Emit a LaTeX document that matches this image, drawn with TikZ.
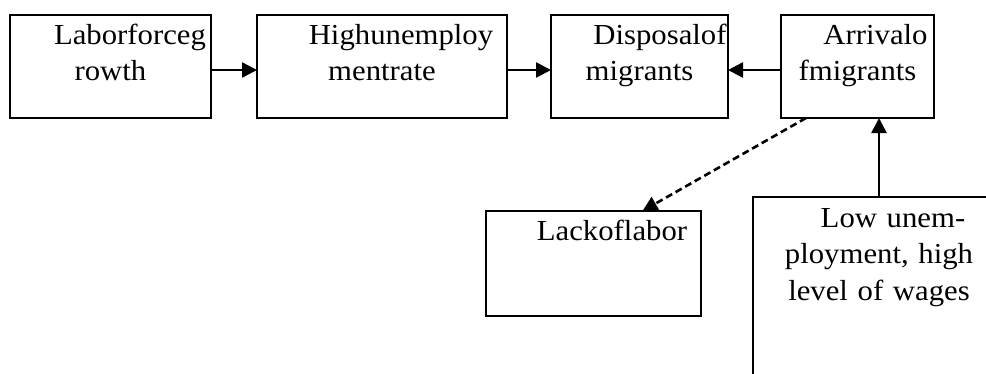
\documentclass[tikz,border=0pt]{standalone}
\usepackage{fontspec}
\setmainfont[FakeStretch=1.06]{Liberation Serif}
\usetikzlibrary{arrows.meta,positioning}

\begin{document}
\begin{tikzpicture}[x=1pt,y=-1pt,->,>={Triangle[length=15pt,width=15pt]},
  line width=2.6pt,node distance=46pt,
  main box/.style={draw,line width=2.2pt,anchor=north west,outer sep=0pt,
    inner sep=0pt,align=center,font=\fontsize{29}{36.5}\selectfont},
  top box/.style={main box,text height=29pt,text depth=74pt}]

    \clip (0,0) rectangle (986,373);

    \node[top box,text width=201pt] (lab) at (10,15) {\hspace*{39pt}Laborforceg\\rowth};
    \node[top box,text width=250pt] (high) [right=of lab] {\hspace*{38pt}Highunemploy\\mentrate};
    \node[top box,text width=177pt] (disp) [right=44pt of high] {\hspace*{41pt}Disposalof\\migrants};
    \node[top box,text width=153pt] (arr) [right=53pt of disp] {\hspace*{36pt}Arrivalo\\fmigrants};
    \node[main box,text width=215pt,text height=29pt,text depth=76pt] (lack) at (486,211) {\hspace*{37pt}Lackoflabor};
    \node[main box,text width=252pt,text height=30pt,text depth=200pt] (low) at (753,197)
      {\hspace*{28pt}Low unem-\\ployment, high\\level of wages};

    \path ([yshift=-3.5pt]lab.east) edge ([yshift=-3.5pt]high.west)
      ([yshift=-3.5pt]high.east) edge ([yshift=-3.5pt]disp.west)
      ([yshift=-3.5pt]arr.west) edge ([yshift=-3.5pt]disp.east)
      (low.north) edge (low.north |- arr.south)
      (arr.225.6) edge[dash pattern=on 7pt off 4pt] (lack.47.3);
\end{tikzpicture}
\end{document}
